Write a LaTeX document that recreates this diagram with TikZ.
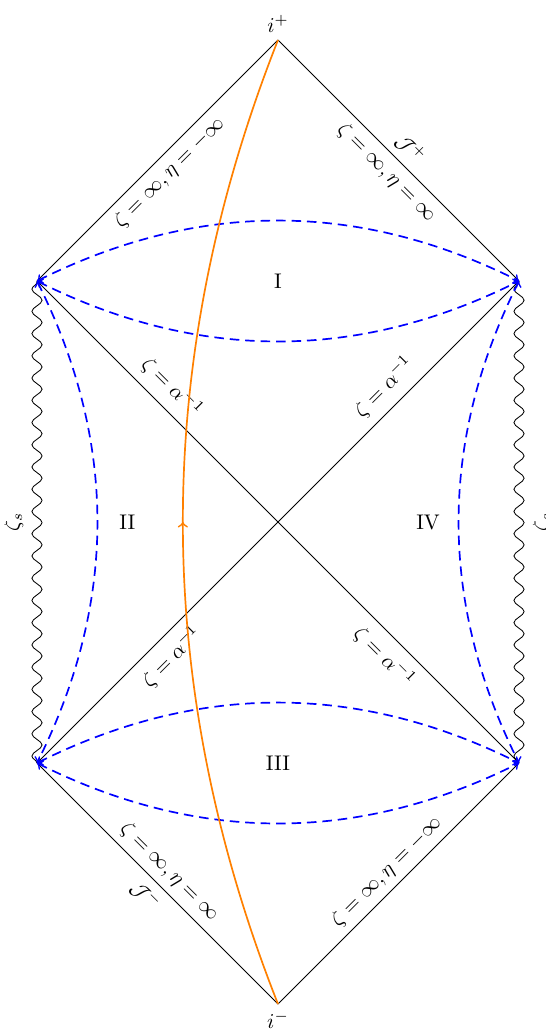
\documentclass[tikz,border=0pt]{standalone}
\usepackage{xcolor}
\usepackage{amsmath}
\usepackage{tikz}
\usetikzlibrary{decorations.pathmorphing,decorations.markings}

\begin{document}
\begin{tikzpicture}[scale=2,
        horizon/.style={blue,thick,dash pattern=on 4.5pt off 2.8pt,<->},
        singular/.style={decorate,decoration={snake,amplitude=2.4pt,segment length=10.5pt}},
        orbit/.style={orange,thick,postaction={decorate},
            decoration={markings,mark=at position 0.5 with {\arrow{>}}}}]
    \useasboundingbox (-2.307,-4.232) rectangle (2.216,4.332);

    \coordinate (ip) at (0,4);
    \coordinate (im) at (0,-4);
    \coordinate (lt) at (-2,2);
    \coordinate (rt) at (2,2);
    \coordinate (lb) at (-2,-2);
    \coordinate (rb) at (2,-2);

    \node[above] (iplus) at (ip) {$i^+$};
    \node[below] (iminus) at (im) {$i^-$};

    \draw (lt) -- node[sloped,below] (e1) {$\zeta=\infty,\eta=-\infty$} (ip);
    \draw (ip) -- node[sloped,below] (e2) {$\zeta=\infty,\eta=\infty$}
                  node[sloped,above] (scrip) {$\mathcal{J}^+$} (rt);
    \draw (lb) -- node[sloped,above] (e3) {$\zeta=\infty,\eta=\infty$}
                  node[sloped,below] (scrim) {$\mathcal{J}^-$} (im);
    \draw (im) -- node[sloped,above] (e4) {$\zeta=\infty,\eta=-\infty$} (rb);

    \draw (lt) -- node[pos=.25,sloped,above=1pt] (h1) {$\zeta=\alpha^{-1}$}
                  node[pos=.75,sloped,below=1pt] (h2) {$\zeta=\alpha^{-1}$} (rb);
    \draw (lb) -- node[pos=.25,sloped,below=1pt] (h3) {$\zeta=\alpha^{-1}$}
                  node[pos=.75,sloped,above=1pt] (h4) {$\zeta=\alpha^{-1}$} (rt);

    \draw[singular] (lb) -- (lt);
    \draw[singular] (rb) -- (rt);
    \path (lb) -- node[sloped,above=3pt] (zl) {$\zeta_s$} (lt);
    \path (rb) -- node[sloped,below=3pt] (zr) {$\zeta_s$} (rt);

    \draw[horizon] (lt) .. controls (-0.667,2.667) and (0.667,2.667) .. (rt);
    \draw[horizon] (lt) .. controls (-0.667,1.333) and (0.667,1.333) .. (rt);
    \draw[horizon] (lb) .. controls (-0.667,-1.333) and (0.667,-1.333) .. (rb);
    \draw[horizon] (lb) .. controls (-0.667,-2.667) and (0.667,-2.667) .. (rb);
    \draw[horizon] (lt) .. controls (-1.333,0.667) and (-1.333,-0.667) .. (lb);
    \draw[horizon] (rt) .. controls (1.333,0.667) and (1.333,-0.667) .. (rb);

    \draw[orbit] (im) .. controls (-1.053,-1.333) and (-1.053,1.333) .. (ip);

    \node (I) at (0,2) {I};
    \node (II) at (-1.25,0) {II};
    \node (III) at (0,-2) {III};
    \node (IV) at (1.245,0) {IV};
\end{tikzpicture}
\end{document}
